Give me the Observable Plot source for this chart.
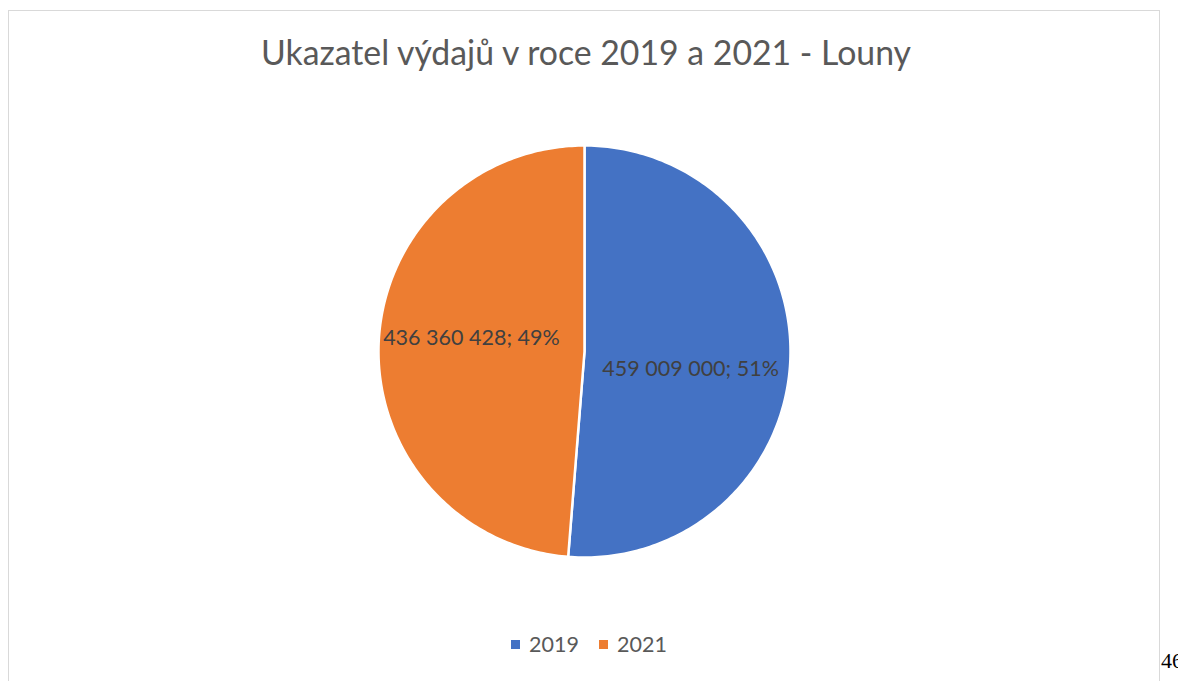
<!DOCTYPE html>
<html>
<head>
<meta charset="utf-8">
<script src="https://cdn.jsdelivr.net/npm/d3@7"></script>
<script src="https://cdn.jsdelivr.net/npm/@observablehq/plot@0.6"></script>
<style>
  html, body { margin: 0; padding: 0; background: #fff; overflow: hidden; }
  #page { position: relative; width: 1178px; height: 681px; overflow: hidden; font-family: Lato, "Open Sans", sans-serif; }
  #frame { position: absolute; left: 8px; top: 10px; width: 1152px; height: 700px; border: 1px solid #d9d9d9; box-sizing: border-box; }
  #title { position: absolute; left: 0; width: 1172px; top: 32px; text-align: center; font-size: 33.8px; color: #595959; white-space: nowrap; }
  #chart { position: absolute; left: 0; top: 0; }
  #legend { position: absolute; left: 0; width: 1178px; top: 631px; text-align: center; font-size: 21.5px; color: #595959; white-space: nowrap; }
  #legend span.sw { display: inline-block; width: 9px; height: 9px; margin-right: 9px; vertical-align: middle; position: relative; top: -2px; }
  #legend span.item { margin: 0 10px; }
  #pageno { position: absolute; left: 1161px; top: 648px; font-family: "Liberation Serif", "DejaVu Serif", serif; font-size: 22px; color: #000; }
</style>
</head>
<body>
<div id="page">
  <div id="frame"></div>
  <div id="title"></div>
  <div id="chart"></div>
  <div id="legend"></div>
  <div id="pageno">46</div>
</div>
<script>
const titleText = "Ukazatel výdajů v roce 2019 a 2021 - Louny";
const categories = ["2019", "2021"];
const values = [459009000, 436360428];
const percentLabels = ["51%", "49%"];
const valueLabels = ["459 009 000", "436 360 428"];
const colors = ["#4472C4", "#ED7D31"];

document.getElementById("title").textContent = titleText;

const rows = categories.map((c, i) => ({key: c, value: values[i], label: valueLabels[i] + "; " + percentLabels[i]}));
const arcs = d3.pie().sort(null).value(d => d.value)(rows);

// sample each slice outline (center + arc)
const pts = [];
arcs.forEach(a => {
  pts.push({key: a.data.key, x: 0, y: 0});
  const n = 200;
  for (let k = 0; k <= n; k++) {
    const t = a.startAngle + (a.endAngle - a.startAngle) * k / n;
    pts.push({key: a.data.key, x: Math.sin(t), y: Math.cos(t)});
  }
});
const labels = arcs.map(a => {
  const m = (a.startAngle + a.endAngle) / 2;
  return {key: a.data.key, label: a.data.label, x: 0.53 * Math.sin(m), y: 0.53 * Math.cos(m)};
});

const cx = 584, cy = 351, r = 206;
const chart = Plot.plot({
  width: 1178, height: 681,
  margin: 0,
  style: {background: "transparent", overflow: "visible"},
  x: {domain: [-1, 1], range: [cx - r, cx + r], axis: null},
  y: {domain: [-1, 1], range: [cy + r, cy - r], axis: null},
  color: {domain: categories, range: colors},
  marks: [
    Plot.line(pts, {x: "x", y: "y", z: "key", fill: "key", stroke: "white", strokeWidth: 2.5, strokeLinejoin: "round", curve: "linear-closed"}),
    Plot.text(labels.filter(d => d.key === "2019"), {x: "x", y: "y", text: "label", fill: "#404040", fontSize: 21.5, dx: -3, dy: 13, fontFamily: "Lato, 'Open Sans', sans-serif"}),
    Plot.text(labels.filter(d => d.key === "2021"), {x: "x", y: "y", text: "label", fill: "#404040", fontSize: 21.5, dx: -4, dy: -9, fontFamily: "Lato, 'Open Sans', sans-serif"})
  ]
});
document.getElementById("chart").appendChild(chart);

const legend = document.getElementById("legend");
categories.forEach((c, i) => {
  const item = document.createElement("span");
  item.className = "item";
  const sw = document.createElement("span");
  sw.className = "sw";
  sw.style.background = colors[i];
  item.appendChild(sw);
  item.appendChild(document.createTextNode(c));
  legend.appendChild(item);
});
</script>
</body>
</html>
